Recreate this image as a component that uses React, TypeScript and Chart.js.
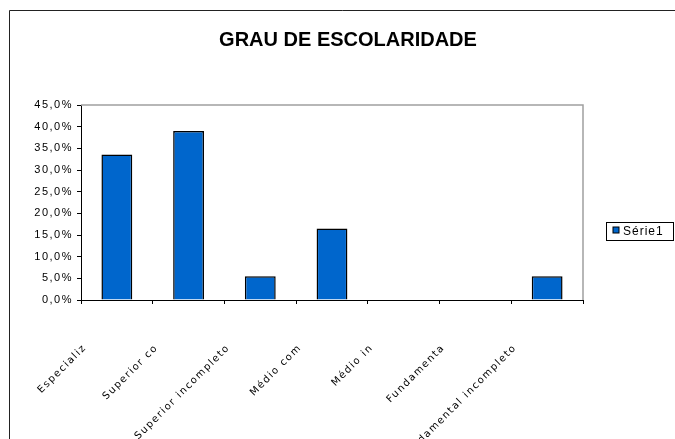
import React, { useEffect, useRef } from "react";
import { Chart, registerables } from "chart.js";

Chart.register(...registerables);

const chartTitle = "GRAU DE ESCOLARIDADE";
const categories = [
  "Especializ",
  "Superior co",
  "Superior incompleto",
  "Médio com",
  "Médio in",
  "Fundamenta",
  "Fundamental incompleto",
];
const seriesName = "Série1";
const seriesValues = [33.6, 39.0, 5.5, 16.5, 0, 0, 5.5];
const yMin = 0;
const yMax = 45;
const yStep = 5;

const BAR_BLUE = "#0066CC";

const decorPlugin = {
  id: "decor",
  beforeDraw(chart: any) {
    const ctx = chart.ctx;
    ctx.save();
    ctx.fillStyle = "#ffffff";
    ctx.fillRect(0, 0, chart.width, chart.height);
    // outer frame (left + top)
    ctx.strokeStyle = "#222222";
    ctx.lineWidth = 1;
    ctx.beginPath();
    ctx.moveTo(9.5, chart.height);
    ctx.lineTo(9.5, 10.5);
    ctx.lineTo(chart.width, 10.5);
    ctx.stroke();
    ctx.restore();
    // wider letter spacing for axis labels
    ctx.letterSpacing = "1.5px";
  },
  afterDraw(chart: any) {
    const ctx = chart.ctx;
    const a = chart.chartArea;
    ctx.letterSpacing = "0px";
    ctx.save();
    // plot-area top and right border (grey)
    ctx.strokeStyle = "#a0a0a0";
    ctx.lineWidth = 1.5;
    ctx.beginPath();
    ctx.moveTo(a.left, a.top);
    ctx.lineTo(a.right, a.top);
    ctx.lineTo(a.right, a.bottom);
    ctx.stroke();

    // title
    ctx.fillStyle = "#000000";
    ctx.font = "bold 20px 'Liberation Sans', Arial, sans-serif";
    ctx.textAlign = "center";
    ctx.textBaseline = "middle";
    ctx.fillText(chartTitle, 348, 40);

    // legend
    const lx = 606.5, ly = 222.5, lw = 67, lh = 18;
    ctx.strokeStyle = "#000000";
    ctx.lineWidth = 1;
    ctx.strokeRect(lx, ly, lw, lh);
    ctx.fillStyle = BAR_BLUE;
    ctx.fillRect(613, 227, 6, 6);
    ctx.strokeStyle = "#000000";
    ctx.strokeRect(613, 227, 6, 6);
    ctx.fillStyle = "#000000";
    ctx.font = "12px 'Liberation Sans', Arial, sans-serif";
    ctx.letterSpacing = "1px";
    ctx.textAlign = "left";
    ctx.textBaseline = "middle";
    ctx.fillText(chart.data.datasets[0].label, 623, 231.5);
    ctx.restore();
    ctx.letterSpacing = "0px";
  },
};

export default function App() {
  const canvasRef = useRef<HTMLCanvasElement | null>(null);

  useEffect(() => {
    if (!canvasRef.current) return;
    const chart = new Chart(canvasRef.current, {
      type: "bar",
      data: {
        labels: categories,
        datasets: [
          {
            label: seriesName,
            data: seriesValues,
            backgroundColor: BAR_BLUE,
            borderColor: "#000000",
            borderWidth: 1.5,
            barPercentage: 0.43,
            categoryPercentage: 1,
          },
        ],
      },
      options: {
        animation: false,
        responsive: false,
        maintainAspectRatio: false,
        layout: { padding: { top: 105, right: 92, left: 0, bottom: 0 } },
        plugins: {
          legend: { display: false },
          title: { display: false },
          tooltip: { enabled: false },
        },
        scales: {
          x: {
            type: "category",
            offset: true,
            grid: {
              offset: true,
              drawOnChartArea: false,
              drawTicks: true,
              tickLength: 4,
              color: "#000000",
            },
            border: { color: "#000000", width: 1 },
            ticks: {
              minRotation: 45,
              maxRotation: 45,
              autoSkip: false,
              padding: 38,
              labelOffset: -32,
              color: "#000000",
              font: { family: "'DejaVu Sans', sans-serif", size: 10 },
            },
            afterFit(scale: any) {
              scale.height = 139;
            },
          },
          y: {
            min: yMin,
            max: yMax,
            grid: {
              drawOnChartArea: false,
              drawTicks: true,
              tickLength: 4,
              color: "#000000",
            },
            border: { color: "#000000", width: 1 },
            ticks: {
              stepSize: yStep,
              padding: 4,
              color: "#000000",
              font: { family: "'Liberation Sans', Arial, sans-serif", size: 11 },
              callback: (v: any) => Number(v).toFixed(1).replace(".", ",") + "%",
            },
            afterFit(scale: any) {
              scale.width = 81;
            },
          },
        },
      },
      plugins: [decorPlugin],
    } as any);
    return () => chart.destroy();
  }, []);

  return (
    <div style={{ position: "absolute", left: 0, top: 0, width: 675, height: 439 }}>
      <canvas ref={canvasRef} width={675} height={439} style={{ display: "block" }} />
    </div>
  );
}
